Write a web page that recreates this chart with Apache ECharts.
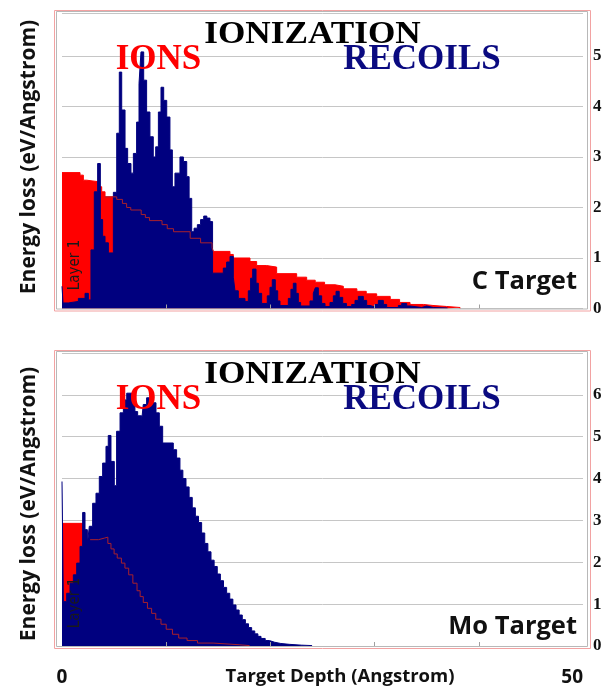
<!DOCTYPE html>
<html>
<head>
<meta charset="utf-8">
<title>Ionization</title>
<script src="https://cdn.jsdelivr.net/npm/echarts@6/dist/echarts.min.js"></script>
<style>
  html, body { margin: 0; padding: 0; background: #fff; }
  #main { width: 606px; height: 689px; }
</style>
</head>
<body>
<div id="main"></div>
<script>
// [depth where the step starts (Angstrom), energy loss (eV/Angstrom)]
const cIons = [
  [0, 2.69], [1.73, 2.64], [2.05, 2.54], [2.37, 2.51], [3.49, 2.41], [3.81, 2.31], [4.13, 2.21],
  [5.25, 2.16], [5.8, 2.08], [6.2, 2.0], [6.6, 1.95], [7.6, 1.86], [8.0, 1.8], [8.4, 1.74],
  [9.6, 1.66], [10.1, 1.58], [10.7, 1.52], [12.3, 1.39], [13.3, 1.3], [14.4, 1.2], [14.52, 1.13],
  [16.12, 1.07], [16.44, 1.0], [18.04, 0.93], [18.68, 0.85], [19.64, 0.82], [20.6, 0.69],
  [22.52, 0.62], [23.48, 0.56], [24.3, 0.52], [25.2, 0.47], [26.2, 0.44], [27.0, 0.39],
  [28.3, 0.34], [29.2, 0.29], [30.2, 0.24], [31.5, 0.18], [32.4, 0.12], [33.4, 0.08],
  [34.7, 0.06], [35.6, 0.04], [36.9, 0.02], [38.2, 0]
];
const cRecoils = [
  [0, 0.44], [0.1, 0.11], [0.6, 0.14], [1.57, 0.2], [2.21, 0.3], [2.53, 0.17], [2.78, 1.16],
  [3.1, 2.31], [3.42, 2.87], [3.68, 1.76], [3.9, 1.43], [4.13, 1.3], [4.45, 1.1], [4.93, 2.3],
  [5.25, 3.47], [5.5, 4.68], [5.73, 3.93], [6.05, 3.17], [6.3, 2.87], [6.62, 2.68], [6.85, 3.07],
  [7.16, 3.69], [7.39, 4.45], [7.58, 5.08], [7.84, 4.52], [8.12, 3.89], [8.44, 3.4], [8.76, 3.0],
  [8.99, 3.2], [9.25, 3.89], [9.5, 4.38], [9.76, 4.12], [10.05, 3.79], [10.36, 3.14], [10.59, 2.41],
  [10.84, 2.68], [11.32, 3.0], [11.65, 2.91], [11.97, 2.61], [12.2, 2.18], [12.45, 1.52],
  [12.67, 1.59], [12.99, 1.66], [13.3, 1.76], [13.6, 1.83], [13.9, 1.79], [14.2, 1.72],
  [14.45, 0.7], [15.48, 0.8], [15.8, 0.92], [16.12, 1.03], [16.44, 0.62], [16.6, 0.35],
  [16.92, 0.2], [17.56, 0.14], [17.88, 0.35], [18.1, 0.6], [18.3, 0.78], [18.62, 0.5],
  [18.84, 0.3], [19.16, 0.1], [19.7, 0.25], [19.96, 0.42], [20.18, 0.57], [20.47, 0.35],
  [20.7, 0.15], [20.92, 0.06], [21.72, 0.2], [21.97, 0.38], [22.2, 0.5], [22.46, 0.3],
  [22.68, 0.12], [22.9, 0.05], [23.8, 0.15], [24.12, 0.3], [24.31, 0.41], [24.6, 0.25],
  [24.92, 0.1], [25.24, 0.04], [25.72, 0.12], [26.04, 0.25], [26.3, 0.34], [26.6, 0.22],
  [26.94, 0.1], [27.3, 0.04], [27.8, 0.08], [28.12, 0.16], [28.44, 0.24], [28.92, 0.16],
  [29.24, 0.06], [29.56, 0.03], [30.04, 0.08], [30.36, 0.16], [30.84, 0.08], [31.16, 0.02],
  [32.28, 0.06], [32.6, 0.1], [33.08, 0.05], [33.4, 0.02], [34.52, 0.05], [35.0, 0.02],
  [35.63, 0.01], [37.0, 0]
];
const moIons = [
  [0, 2.93], [1.98, 2.75], [2.4, 2.55], [2.7, 2.54], [3.5, 2.58], [4.1, 2.6], [4.4, 2.45],
  [4.7, 2.32], [5.0, 2.2], [5.3, 2.1], [5.7, 1.98], [6.04, 1.86], [6.4, 1.7], [6.8, 1.5],
  [7.2, 1.32], [7.5, 1.18], [7.8, 1.04], [8.2, 0.9], [8.6, 0.78], [9.0, 0.64], [9.5, 0.52],
  [10.0, 0.4], [10.6, 0.28], [11.2, 0.19], [12.0, 0.13], [13.0, 0.07], [14.5, 0.03],
  [17.0, 0.01], [18.0, 0]
];
const moRecoils = [
  [0, 3.93], [0.13, 1.06], [0.45, 1.26], [0.77, 1.5], [1.09, 1.7], [1.41, 1.98], [1.73, 2.38],
  [1.98, 3.19], [2.21, 2.78], [2.43, 2.42], [2.62, 2.86], [2.94, 3.41], [3.26, 3.65], [3.58, 4.05],
  [3.9, 4.37], [4.22, 4.77], [4.44, 5.03], [4.7, 4.41], [5.02, 3.83], [5.24, 5.13], [5.57, 5.57],
  [5.89, 5.88], [6.21, 6.04], [6.69, 5.96], [7.0, 5.6], [7.26, 5.5], [7.64, 5.37], [7.8, 5.77],
  [8.12, 5.93], [8.7, 5.81], [9.02, 5.57], [9.34, 5.25], [9.66, 4.85], [10.68, 4.69], [11.0, 4.49],
  [11.32, 4.2], [11.6, 4.0], [11.9, 3.8], [12.2, 3.55], [12.5, 3.3], [12.8, 3.1], [13.1, 2.95],
  [13.4, 2.7], [13.7, 2.45], [14.0, 2.25], [14.3, 2.05], [14.6, 1.9], [14.9, 1.72], [15.2, 1.56],
  [15.5, 1.4], [15.8, 1.26], [16.1, 1.12], [16.4, 0.98], [16.7, 0.86], [17.0, 0.74], [17.3, 0.63],
  [17.6, 0.53], [17.9, 0.44], [18.2, 0.36], [18.5, 0.29], [18.8, 0.23], [19.1, 0.18], [19.5, 0.13],
  [19.9, 0.09], [20.4, 0.06], [21.0, 0.04], [21.8, 0.02], [23.0, 0.01], [24.0, 0]
];
const xTickValues = [10, 20, 30, 40];
const xLabelValues = [0, 50];
const panelNames = ['C Target', 'Mo Target'];

const RED = '#ff0000';
const NAVY = '#00007f';
const ION_LINE = '#a8202c';
const SANS = '"Open Sans", Lato, sans-serif';
const SERIF = '"Liberation Serif", "Times New Roman", serif';

// one entry per panel: data, y range, grid box, where the ion curve shows over the recoils
const panels = [
  { ions: cIons, recoils: cRecoils, yMax: 5.85, top: 13, height: 295.5, lineFrom: 4.13, lineTo: 14.52, oy: 0 },
  { ions: moIons, recoils: moRecoils, yMax: 7, top: 353, height: 293, lineFrom: 2.7, lineTo: 50, oy: 340 }
];

const grids = [], xAxes = [], yAxes = [], series = [], graphics = [];

function text(x, y, str, style, extra) {
  return Object.assign({
    type: 'text', x: x, y: y, z: 100, silent: true,
    style: Object.assign({
      text: str, textAlign: 'center', textVerticalAlign: 'middle',
      align: 'center', verticalAlign: 'middle'
    }, style)
  }, extra || {});
}

panels.forEach(function (p, i) {
  grids.push({ left: 62, right: 23, top: p.top, height: p.height, outerBoundsMode: 'none', containLabel: false });

  xAxes.push({
    type: 'value', gridIndex: i, min: 0, max: 50, interval: 10, z: 10,
    axisLine: { show: false },
    splitLine: { show: false },
    axisTick: { show: true, inside: true, length: 4, customValues: xTickValues, lineStyle: { color: '#a0a0a0' } },
    axisLabel: {
      show: i === 1, customValues: xLabelValues, margin: 22, alignMaxLabel: 'right',
      fontFamily: SANS, fontWeight: 'bold', fontSize: 19, color: '#111'
    },
    name: i === 1 ? 'Target Depth (Angstrom)' : '',
    nameLocation: 'middle', nameGap: 21, nameMoveOverlap: false,
    nameTextStyle: { fontFamily: SANS, fontWeight: 'bold', fontSize: 18.5, color: '#111', padding: [0, 0, 0, 35] }
  });

  yAxes.push({
    type: 'value', gridIndex: i, position: 'right', min: 0, max: p.yMax, interval: 1,
    axisLine: { show: false }, axisTick: { show: false },
    splitLine: { lineStyle: { color: '#c6c6c6', width: 1 } },
    axisLabel: {
      margin: 10, fontFamily: SERIF, fontWeight: 'bold', fontSize: 17, color: '#111',
      formatter: function (v) { return Number.isInteger(v) && v < p.yMax ? String(v) : ''; }
    }
  });

  series.push({
    type: 'line', xAxisIndex: i, yAxisIndex: i, step: 'end', data: p.ions,
    symbol: 'none', silent: true, z: 1,
    lineStyle: { color: RED, width: 1 }, areaStyle: { color: RED, opacity: 1 }
  });
  series.push({
    type: 'line', xAxisIndex: i, yAxisIndex: i, step: 'end', data: p.recoils,
    symbol: 'none', silent: true, z: 2,
    lineStyle: { color: NAVY, width: 1 }, areaStyle: { color: NAVY, opacity: 1 }
  });
  // thin ion curve where it runs over the recoil area
  series.push({
    type: 'line', xAxisIndex: i, yAxisIndex: i, step: 'end',
    data: p.ions.filter(function (d) { return d[0] >= p.lineFrom && d[0] <= p.lineTo; }),
    symbol: 'none', silent: true, z: 3,
    lineStyle: { color: ION_LINE, width: 1 }
  });

  // frames
  const fy = p.top - 1.5;
  const fh = p.height + 2;
  graphics.push({ type: 'rect', z: 99, silent: true, shape: { x: 54.5, y: fy - 1, width: 536, height: fh + 3 },
    style: { fill: 'none', stroke: '#f2a2a2', lineWidth: 1 } });
  graphics.push({ type: 'rect', z: 99, silent: true, shape: { x: 56.5, y: fy, width: 531, height: fh },
    style: { fill: 'none', stroke: '#b8b8b8', lineWidth: 1 } });

  const oy = p.oy;
  graphics.push(text(312.5, 35 + oy, 'IONIZATION',
    { fontFamily: SERIF, fontWeight: 'bold', fontSize: 32, fill: '#000' }, { scaleX: 1.1 }));
  graphics.push(text(158.5, 59.5 + oy, 'IONS',
    { fontFamily: SERIF, fontWeight: 'bold', fontSize: 35, fill: RED }));
  graphics.push(text(422, 59.5 + oy, 'RECOILS',
    { fontFamily: SERIF, fontWeight: 'bold', fontSize: 35, fill: '#0a0a80' }));
  graphics.push(text(577, 281.5 + oy + (i ? 5 : 0), panelNames[i],
    { fontFamily: SANS, fontWeight: 'bold', fontSize: 25.5, fill: '#111', textAlign: 'right', align: 'right' }));
  graphics.push(text(29, 157 + oy + (i ? 7 : 0), 'Energy loss (eV/Angstrom)',
    { fontFamily: SANS, fontWeight: 'bold', fontSize: 21, fill: '#111' }, { rotation: Math.PI / 2 }));
  graphics.push(text(75, 265 + oy - 2 + (i ? 0 : 2), 'Layer 1',
    { fontFamily: '"DejaVu Sans Condensed", "Liberation Sans Narrow", sans-serif', fontSize: 15, fill: '#1a1a1a' },
    { rotation: Math.PI / 2 }));
});

const chart = echarts.init(document.getElementById('main'), null, { renderer: 'canvas' });
chart.setOption({
  animation: false,
  backgroundColor: '#fff',
  grid: grids,
  xAxis: xAxes,
  yAxis: yAxes,
  series: series,
  graphic: { elements: graphics }
});
</script>
</body>
</html>
